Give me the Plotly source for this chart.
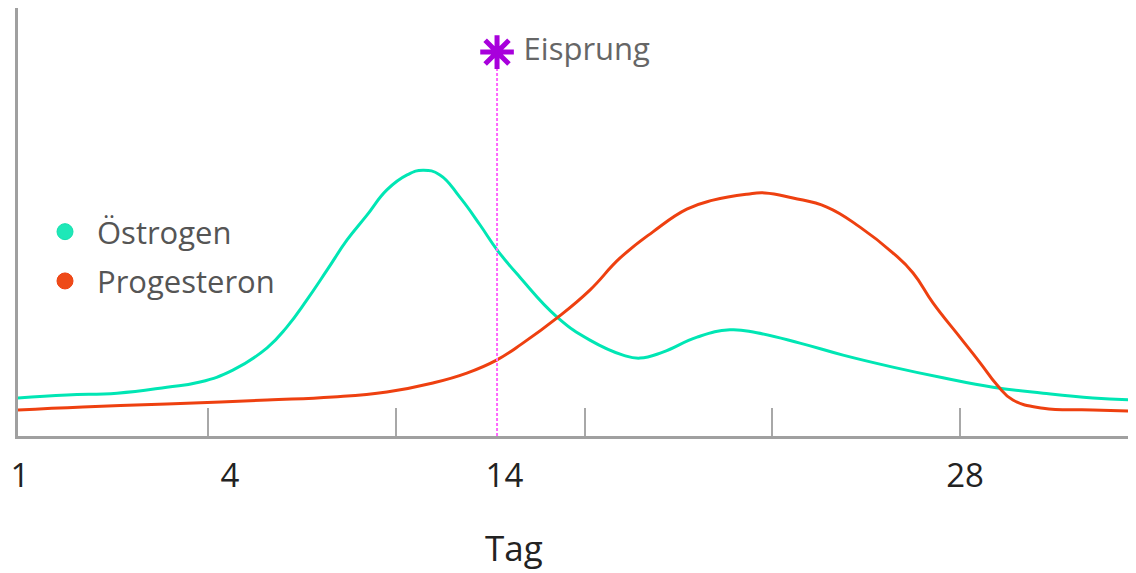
import plotly.graph_objects as go

# ---- data ----
# x: cycle day position, y: relative hormone level (0-100)
estrogen_x = [1.0, 2.33, 3.69, 5.04, 5.94, 6.83, 7.76, 8.30, 8.84, 9.39, 9.93, 10.47, 11.01,
              11.56, 11.99, 12.45, 12.99, 13.54, 14.0, 14.62, 15.63, 16.52, 17.42, 17.88,
              18.50, 19.43, 20.32, 21.05, 22.22, 23.39, 24.74, 26.10, 27.46, 28.82, 30.17, 31.34]
estrogen_y = [8.9, 9.6, 10.0, 11.4, 12.6, 15.4, 20.6, 25.5, 31.8, 38.8, 45.8, 51.6, 57.5,
              61.0, 62.1, 61.0, 55.8, 49.3, 43.5, 37.1, 27.8, 22.4, 18.9, 18.2,
              19.6, 23.1, 24.8, 24.1, 21.7, 18.9, 16.1, 13.6, 11.4, 10.0, 8.9, 8.4]

progesterone_x = [1.0, 2.76, 5.04, 7.76, 9.55, 11.01, 12.26, 13.18, 14.0, 14.70, 15.63, 16.52,
                  17.34, 18.23, 19.15, 19.86, 20.78, 21.27, 22.03, 22.95, 23.85, 24.74, 25.29,
                  25.83, 26.56, 27.11, 27.57, 28.00, 28.82, 30.17, 31.34]
progesterone_y = [6.1, 6.8, 7.5, 8.4, 9.1, 10.3, 12.4, 14.7, 17.8, 21.7, 27.6, 34.1,
                  41.6, 47.7, 53.0, 55.1, 56.5, 56.8, 55.6, 53.5, 48.8, 42.8, 38.1,
                  31.1, 23.1, 17.1, 11.9, 8.4, 6.5, 6.1, 5.8]

ovulation_day = 14.0
ovulation_line_top = 86.0
ovulation_marker_y = 89.7
ovulation_label = "Eisprung"

tick_mark_positions = [6.16, 11.26, 16.39, 21.46, 26.56]
tick_label_positions = [1.05, 6.75, 14.2, 26.7]
tick_label_texts = ["1", "4", "14", "28"]
axis_title = "Tag"

x_range = [1.0, 31.34]
y_range = [0, 100]

series_names = ["Östrogen", "Progesteron"]
estrogen_color = "#00e6b4"
progesterone_color = "#ee4010"
ovulation_color = "#a800dc"

FONT = "Open Sans"

# the page body adds an 8px margin; the figure is sized to fill the rest of the window
W, H = 1128, 565
ML, MR, MT, MB = 10, 0, 0, 137
PLOT_H = H - MT - MB

fig = go.Figure()

fig.add_trace(go.Scatter(x=estrogen_x, y=estrogen_y, mode="lines", name=series_names[0],
                         line=dict(color=estrogen_color, width=3, shape="spline", smoothing=1.3),
                         showlegend=False))
fig.add_trace(go.Scatter(x=progesterone_x, y=progesterone_y, mode="lines", name=series_names[1],
                         line=dict(color=progesterone_color, width=3, shape="spline", smoothing=1.3),
                         showlegend=False))

# ovulation dotted line
fig.add_trace(go.Scatter(x=[ovulation_day, ovulation_day], y=[0, ovulation_line_top], mode="lines",
                         line=dict(color="#ff66ff", width=2, dash="3px,2px"), showlegend=False,
                         hoverinfo="skip"))
# ovulation marker + label
fig.add_trace(go.Scatter(x=[ovulation_day], y=[ovulation_marker_y], mode="markers+text",
                         text=[" " + ovulation_label], textposition="middle right",
                         textfont=dict(family=FONT, size=31, color="#666666"),
                         marker=dict(symbol="asterisk-open", size=28, color=ovulation_color,
                                     line=dict(color=ovulation_color, width=5)),
                         showlegend=False, cliponaxis=False))

# legend entries (drawn on the tick-mark axis so that it renders)
fig.add_trace(go.Scatter(x=[None], y=[None], mode="markers", name=series_names[0], xaxis="x2",
                         legendgroup="e",
                         marker=dict(symbol="circle", size=26, color="#1ee8b8",
                                     line=dict(color="#14e0ae", width=1))))
fig.add_trace(go.Scatter(x=[None], y=[None], mode="markers", name=series_names[1], xaxis="x2",
                         legendgroup="p",
                         marker=dict(symbol="circle", size=26, color="#ee4a18",
                                     line=dict(color="#ee4010", width=1))))

# x-axis title
fig.add_annotation(x=14.45, y=(PLOT_H - (547 - 8)) / PLOT_H, xref="x", yref="paper",
                   yanchor="middle", text=axis_title, showarrow=False,
                   font=dict(family=FONT, size=35, color="#222222"))

fig.update_layout(
    width=W, height=H,
    margin=dict(l=ML, r=MR, t=MT, b=MB, pad=0, autoexpand=False),
    plot_bgcolor="white", paper_bgcolor="white",
    showlegend=True,
    legend=dict(x=(25 - ML) / (W - ML - MR), y=(PLOT_H - (205 - 8)) / PLOT_H,
                xanchor="left", yanchor="top", bgcolor="rgba(0,0,0,0)",
                font=dict(family=FONT, size=31, color="#555555"),
                itemwidth=54, traceorder="grouped", tracegroupgap=6),
    xaxis=dict(range=x_range, showgrid=False, zeroline=False,
               showline=True, linecolor="#a0a0a0", linewidth=3,
               tickmode="array", tickvals=tick_label_positions, ticktext=tick_label_texts,
               ticks="outside", ticklen=8, tickcolor="rgba(0,0,0,0)",
               tickfont=dict(family=FONT, size=33, color="#222222")),
    xaxis2=dict(range=x_range, overlaying="x", anchor="y", side="bottom",
                showgrid=False, zeroline=False, showline=False,
                tickmode="array", tickvals=tick_mark_positions,
                ticks="inside", ticklen=28, tickwidth=2, tickcolor="#a8a8a8",
                showticklabels=False),
    yaxis=dict(range=y_range, showgrid=False, zeroline=False, showticklabels=False,
               showline=True, linecolor="#a0a0a0", linewidth=3, ticks=""),
)

fig.write_html("out.html")
